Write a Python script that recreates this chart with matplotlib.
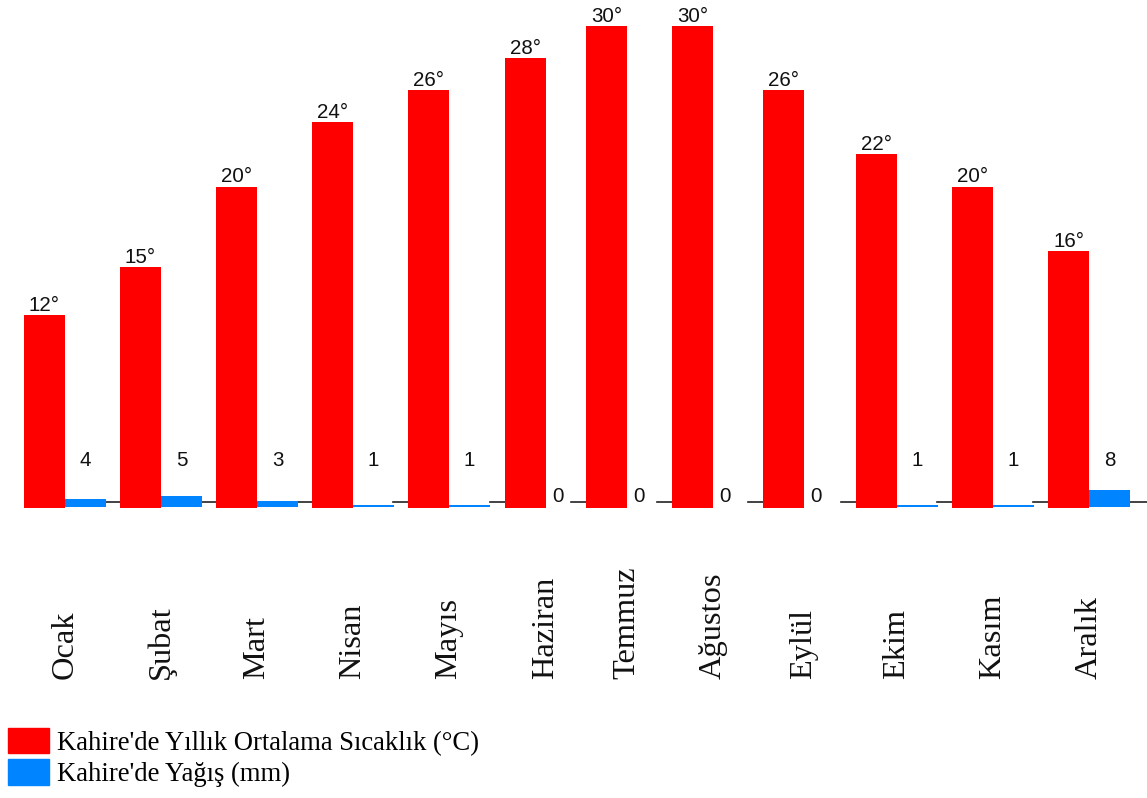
import numpy as np
import matplotlib
matplotlib.use("Agg")
import matplotlib.pyplot as plt
from matplotlib.patches import Patch

# Kahire iklim verileri
months = ["Ocak", "Şubat", "Mart", "Nisan", "Mayıs", "Haziran",
          "Temmuz", "Ağustos", "Eylül", "Ekim", "Kasım", "Aralık"]
temp = [12, 15, 20, 24, 26, 28, 30, 30, 26, 22, 20, 16]
rain = [4, 5, 3, 1, 1, 0, 0, 0, 0, 1, 1, 8]
temp_label = "Kahire'de Yıllık Ortalama Sıcaklık (°C)"
rain_label = "Kahire'de Yağış (mm)"

RED = "#fe0000"
BLUE = "#0084ff"
SANS = "Liberation Sans"
SERIF = "Liberation Serif"

# group spacing (months without rain are packed tighter)
step = [1, 1, 1, 1, 1.01, 0.844, 0.896, 0.948, 0.969, 1, 1]
x = np.concatenate([[0], np.cumsum(step)])
w = 0.427

fig = plt.figure(figsize=(11.47, 7.98), dpi=100)
ax = fig.add_axes([0, 0, 1, 1])
ax2 = ax.twinx()
ax.set_xlim(-0.25, 11.698)
ax.set_ylim(-18.05, 31.61)
ax2.set_ylim(-138.6, 241.4)
for a in (ax, ax2):
    a.axis("off")

ax.bar(x, temp, width=w, align="edge", color=RED, linewidth=0, zorder=3)
ax2.bar(x + w, rain, width=w, align="edge", color=BLUE, linewidth=0, zorder=3)

# short baseline pieces between groups
for i in range(1, len(x)):
    ax.plot([x[i] - 0.16, x[i]], [0.38, 0.38], color="#222222", lw=1.2, zorder=2)
ax.plot([x[-1] + 2 * w, 11.7], [0.38, 0.38], color="#222222", lw=1.2, zorder=2)

for xi, t in zip(x, temp):
    ax.annotate(f"{t}°", xy=(xi + w / 2, t), xytext=(0, 3), textcoords="offset points",
                ha="center", va="baseline", fontsize=14.8, family=SANS, color="#111111")

for xi, r in zip(x, rain):
    ypos = 19.5 if r > 0 else 2.4
    xo = 1.5 * w if r > 0 else 1.3 * w
    ax2.text(xi + xo, ypos, str(r), ha="center", va="baseline",
             fontsize=14.8, family=SANS, color="#111111")

for xi, m in zip(x, months):
    ax.text(xi + w, 0.149, m, transform=ax.get_xaxis_transform(), rotation=90,
            ha="center", va="bottom", fontsize=23.3, family=SERIF, color="#111111")

handles = [Patch(color=RED, label=temp_label), Patch(color=BLUE, label=rain_label)]
fig.legend(handles=handles, loc="lower left", bbox_to_anchor=(8 / 1147, 11 / 798),
           frameon=False, prop={"family": SERIF, "size": 19.2}, handlelength=1.54,
           handleheight=1.09, labelspacing=0.13, handletextpad=0.3, borderpad=0,
           borderaxespad=0)

fig.savefig("out.png", dpi=100)
